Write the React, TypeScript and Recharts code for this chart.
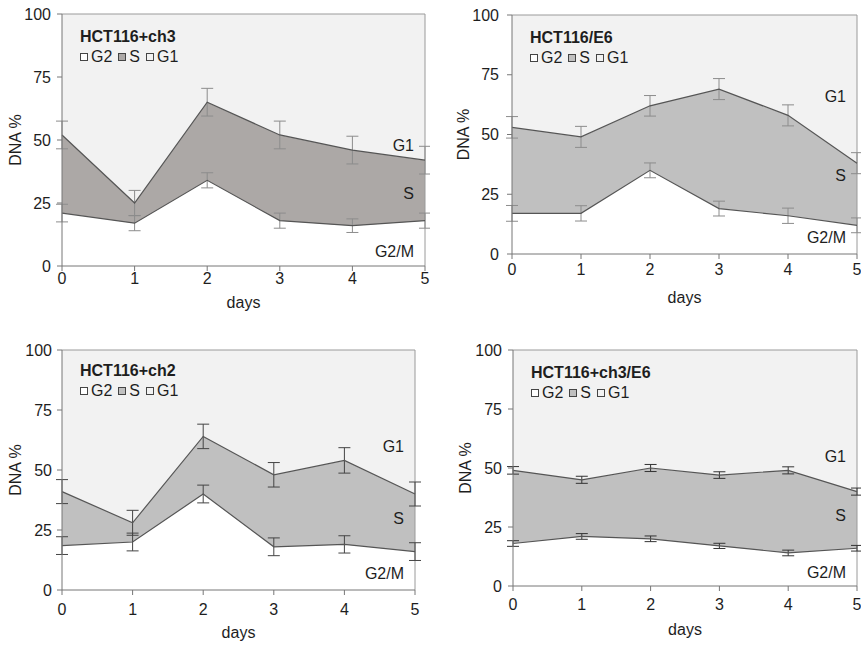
import React from "react";
import {
  ComposedChart,
  Area,
  Line,
  XAxis,
  YAxis,
  ErrorBar,
  ReferenceDot,
  ReferenceLine,
  Legend,
} from "recharts";

const days = [0, 1, 2, 3, 4, 5];
const yTicks = [0, 25, 50, 75, 100];
const phases = ["G2", "S", "G1"];
const phaseLabels = ["G1", "S", "G2/M"];

// HCT116+ch3
const ch3G2 = [21, 17, 34, 18, 16, 18];
const ch3S = [31, 8, 31, 34, 30, 24];
const ch3G1 = [48, 75, 35, 48, 54, 58];
const ch3G2Err = [3.5, 3, 3, 3, 2.7, 3];
const ch3TopErr = [5.5, 5, 5.5, 5.5, 5.5, 5.5];

// HCT116/E6
const e6G2 = [17, 17, 35, 19, 16, 12];
const e6S = [36, 32, 27, 50, 42, 26];
const e6G1 = [47, 51, 38, 31, 42, 62];
const e6G2Err = [3.3, 3.2, 3.1, 3.1, 3.2, 3.1];
const e6TopErr = [4.5, 4.4, 4.3, 4.4, 4.4, 4.4];

// HCT116+ch2
const ch2G2 = [18.5, 20, 40, 18, 19, 16];
const ch2S = [22.5, 8, 24, 30, 35, 24];
const ch2G1 = [59, 72, 36, 52, 46, 60];
const ch2G2Err = [3.7, 3.7, 3.7, 3.7, 3.6, 3.7];
const ch2TopErr = [5, 5.2, 5.1, 5.1, 5.3, 5];

// HCT116+ch3/E6
const ch3e6G2 = [18, 21, 20, 17, 14, 16];
const ch3e6S = [31, 24, 30, 30, 35, 24];
const ch3e6G1 = [51, 55, 50, 53, 51, 60];
const ch3e6G2Err = [1.2, 1.2, 1.2, 1.1, 1.2, 1.2];
const ch3e6TopErr = [1.6, 1.5, 1.5, 1.4, 1.5, 1.5];

const FONT = "'Liberation Sans', Arial, sans-serif";
const LINE = "#555555";
const AXIS = "#777777";
const FRAME = "#9a9a9a";
const TEXT = "#1e1e1e";

const panels = [
  {
    title: "HCT116+ch3", g2: ch3G2, s: ch3S, g1: ch3G1, g2Err: ch3G2Err, topErr: ch3TopErr,
    left: 0, top: 0, width: 430, height: 320,
    margin: { top: 14, right: 5, bottom: 24, left: 0 }, yAxisWidth: 62,
    xTickMargin: 2, yTickMargin: 6, daysOffset: 1, dnaOffset: 15,
    labelAt: [48, 29, 6], sFill: "#aca8a6", errColor: "#8c8c8c",
    legendLeft: 80, legendTop: 27,
  },
  {
    title: "HCT116/E6", g2: e6G2, s: e6S, g1: e6G1, g2Err: e6G2Err, topErr: e6TopErr,
    left: 430, top: 0, width: 431, height: 320,
    margin: { top: 15, right: 4, bottom: 36, left: 0 }, yAxisWidth: 82,
    xTickMargin: 5, yTickMargin: 8, daysOffset: 8, dnaOffset: 33,
    labelAt: [66, 33, 7], sFill: "#c0c0c0", errColor: "#8c8c8c",
    legendLeft: 100, legendTop: 28,
  },
  {
    title: "HCT116+ch2", g2: ch2G2, s: ch2S, g1: ch2G1, g2Err: ch2G2Err, topErr: ch2TopErr,
    left: 0, top: 320, width: 430, height: 326,
    margin: { top: 30, right: 15, bottom: 26, left: 0 }, yAxisWidth: 62,
    xTickMargin: 9, yTickMargin: 5, daysOffset: 7, dnaOffset: 15,
    labelAt: [60, 30, 7], sFill: "#c0c0c0", errColor: "#444444",
    legendLeft: 80, legendTop: 41,
  },
  {
    title: "HCT116+ch3/E6", g2: ch3e6G2, s: ch3e6S, g1: ch3e6G1, g2Err: ch3e6G2Err, topErr: ch3e6TopErr,
    left: 430, top: 320, width: 431, height: 326,
    margin: { top: 30, right: 4, bottom: 30, left: 0 }, yAxisWidth: 83,
    xTickMargin: 8, yTickMargin: 6, daysOffset: 8, dnaOffset: 35,
    labelAt: [55, 30, 6], sFill: "#c0c0c0", errColor: "#333333",
    legendLeft: 101, legendTop: 43,
  },
];

function PhaseLegend({ title, payload }: { title: string; payload?: any[] }) {
  const items = phases
    .map((name) => (payload || []).find((e) => e.value === name))
    .filter(Boolean);
  return (
    <div style={{ fontFamily: FONT, color: TEXT, textAlign: "left", whiteSpace: "nowrap" }}>
      <div style={{ fontWeight: "bold", fontSize: 16, lineHeight: "20px" }}>{title}</div>
      <div style={{ display: "flex", alignItems: "center", fontSize: 16, lineHeight: "20px" }}>
        {items.map((e: any) => (
          <span key={e.value} style={{ display: "inline-flex", alignItems: "center", marginRight: 6 }}>
            <span
              style={{
                display: "inline-block",
                width: 6,
                height: 6,
                border: "1px solid #444",
                background: e.color,
                marginRight: 3,
              }}
            />
            {e.value}
          </span>
        ))}
      </div>
    </div>
  );
}

function PhasePanel({ p }: { p: (typeof panels)[number] }) {
  const rows = days.map((d, i) => ({
    day: d,
    g2: p.g2[i],
    s: p.s[i],
    g1: p.g1[i],
    g2Err: p.g2Err[i],
    topErr: p.topErr[i],
  }));
  const tickStyle = { fill: TEXT, fontSize: 16, fontFamily: FONT };
  return (
    <div style={{ position: "absolute", left: p.left, top: p.top, fontFamily: FONT }}>
      <ComposedChart width={p.width} height={p.height} data={rows} margin={p.margin}>
        <Area dataKey="g2" name="G2" stackId="p" type="linear" fill="#ffffff" fillOpacity={1} stroke="none" isAnimationActive={false} />
        <Area dataKey="s" name="S" stackId="p" type="linear" fill={p.sFill} fillOpacity={1} stroke="none" isAnimationActive={false} />
        <Area dataKey="g1" name="G1" stackId="p" type="linear" fill="#f2f2f2" fillOpacity={1} stroke="none" isAnimationActive={false} />
        <ReferenceLine y={100} stroke={FRAME} strokeWidth={1} />
        <ReferenceLine x={5} stroke={FRAME} strokeWidth={1} />
        <Line dataKey="g2" type="linear" stroke={LINE} strokeWidth={1.2} dot={false} activeDot={false} legendType="none" isAnimationActive={false}>
          <ErrorBar dataKey="g2Err" width={6} stroke={p.errColor} strokeWidth={1} isAnimationActive={false} />
        </Line>
        <Line
          dataKey={(r: any) => r.g2 + r.s}
          name="top"
          type="linear"
          stroke={LINE}
          strokeWidth={1.2}
          dot={false}
          activeDot={false}
          legendType="none"
          isAnimationActive={false}
        >
          <ErrorBar dataKey="topErr" width={6} stroke={p.errColor} strokeWidth={1} isAnimationActive={false} />
        </Line>
        {phaseLabels.map((lab, i) => (
          <ReferenceDot
            key={lab}
            x={5}
            y={p.labelAt[i]}
            r={0}
            fill="none"
            stroke="none"
            ifOverflow="visible"
            label={{ value: lab, position: "left", offset: 11, fill: TEXT, fontSize: 16, fontFamily: FONT }}
          />
        ))}
        <XAxis
          type="number"
          dataKey="day"
          domain={[0, 5]}
          ticks={days}
          height={30}
          stroke={AXIS}
          tickSize={5}
          tickMargin={p.xTickMargin}
          tick={tickStyle}
          label={{ value: "days", position: "bottom", offset: p.daysOffset, fill: TEXT, fontSize: 16, fontFamily: FONT }}
        />
        <YAxis
          type="number"
          domain={[0, 100]}
          ticks={yTicks}
          width={p.yAxisWidth}
          stroke={AXIS}
          tickSize={5}
          tickMargin={p.yTickMargin}
          tick={tickStyle}
          label={{
            value: "DNA %",
            angle: -90,
            position: "insideLeft",
            offset: p.dnaOffset,
            fill: TEXT,
            fontSize: 16,
            fontFamily: FONT,
            style: { textAnchor: "middle" },
          }}
        />
        <Legend
          layout="horizontal"
          verticalAlign="middle"
          wrapperStyle={{ left: p.legendLeft, top: p.legendTop, width: "auto" }}
          content={(props: any) => <PhaseLegend title={p.title} payload={props.payload} />}
        />
      </ComposedChart>
    </div>
  );
}

export default function App() {
  return (
    <div style={{ position: "absolute", left: 0, top: 0, width: 861, height: 646, background: "#ffffff" }}>
      {panels.map((p) => (
        <PhasePanel key={p.title} p={p} />
      ))}
    </div>
  );
}
